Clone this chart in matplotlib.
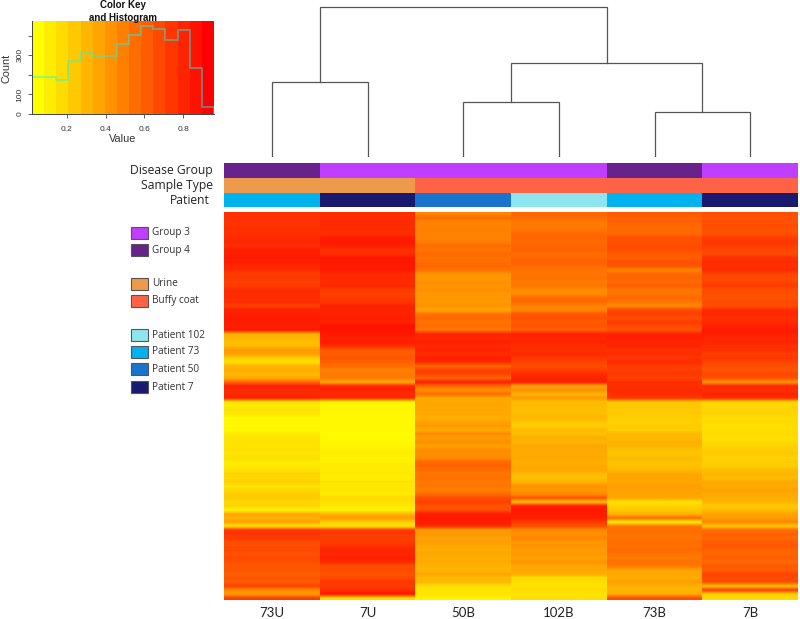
import matplotlib
matplotlib.use('Agg')
import matplotlib.pyplot as plt
from matplotlib.colors import LinearSegmentedColormap
from matplotlib.patches import Rectangle
import numpy as np

plt.rcParams['font.family'] = ['Open Sans', 'DejaVu Sans']

samples = ['73U', '7U', '50B', '102B', '73B', '7B']
disease_group = ['Group 4', 'Group 3', 'Group 3', 'Group 3', 'Group 4', 'Group 3']
sample_type = ['Urine', 'Urine', 'Buffy coat', 'Buffy coat', 'Buffy coat', 'Buffy coat']
patient = ['Patient 73', 'Patient 7', 'Patient 50', 'Patient 102', 'Patient 73', 'Patient 7']

group_colors = {'Group 3': '#BF3EFF', 'Group 4': '#68228B'}
type_colors = {'Urine': '#EE9A4D', 'Buffy coat': '#FF6347'}
patient_colors = {'Patient 102': '#8EE5EE', 'Patient 73': '#00B2EE',
                  'Patient 50': '#1874CD', 'Patient 7': '#191970'}

# heatmap rows, top to bottom, one list per sample
col_73U = [.84,.85,.83,.84,.85,.84,.87,.88,.86,.92,.91,.93,.92,.88,.87,.79,.81,.78,.80,.86,
           .87,.85,.86,.78,.92,.90,.93,.92,.91,.94,
           .32,.30,.27,.28,.42,.38,.22,.12,.30,.34,.28,.36,.62,.92,.86,.88,.90,
           .10,.08,.12,.10,.03,.03,.04,.03,.09,.12,.10,.11,.13,.10,.14,.08,.10,.12,.18,
           .15,.20,.10,.17,.19,.22,.16,.18,.05,.36,.32,.38,.12,
           .82,.84,.80,.73,.72,.75,.70,.74,.72,.68,.70,.65,.70,.66,.78,.48,.40,.78]
col_7U = [.86,.85,.87,.86,.86,.85,.93,.94,.92,.84,.86,.94,.95,.93,.94,.87,.88,.86,.88,.80,
          .78,.81,.82,.90,.91,.89,.92,.90,.97,.96,
          .94,.90,.92,.85,.68,.66,.70,.65,.60,.52,.55,.54,.35,.88,.92,.86,.88,
          .03,.03,.04,.03,.03,.02,.03,.03,.02,.03,.03,.04,.07,.08,.05,.06,.09,.08,.10,
          .07,.12,.09,.11,.08,.16,.12,.10,.05,.30,.42,.20,.10,
          .80,.82,.78,.80,.84,.90,.88,.92,.87,.72,.74,.70,.75,.82,.80,.85,.95,.15]
col_50B = [.50,.60,.50,.50,.52,.50,.50,.53,.60,.56,.62,.58,.60,.62,.58,.44,.42,.45,.44,.46,
           .42,.43,.42,.45,.35,.58,.62,.56,.60,.55,
           .90,.88,.92,.87,.90,.86,.91,.88,.62,.78,.76,.62,.92,.62,.45,.60,.35,
           .36,.37,.35,.36,.32,.38,.42,.35,.48,.40,.46,.38,.47,.46,.48,.62,.64,.60,.55,
           .58,.54,.56,.52,.60,.74,.78,.70,.72,.92,.94,.92,.88,
           .40,.42,.38,.40,.36,.34,.36,.33,.35,.32,.30,.36,.28,.30,.14,.10,.12,.05]
col_102B = [.62,.60,.55,.55,.56,.62,.63,.60,.62,.64,.60,.62,.66,.60,.58,.55,.58,.54,.56,.47,
            .48,.60,.62,.50,.50,.68,.72,.66,.70,.65,
            .92,.88,.90,.86,.84,.88,.82,.76,.74,.78,.86,.90,.92,.36,.46,.30,.42,
            .27,.28,.27,.27,.30,.24,.20,.28,.26,.34,.30,.36,.35,.34,.36,.33,.35,.36,.28,
            .26,.32,.45,.42,.48,.70,.25,.92,.94,.93,.92,.80,.72,
            .48,.46,.50,.42,.44,.40,.42,.38,.44,.35,.36,.34,.13,.14,.12,.15,.11,.13]
col_73B = [.68,.65,.64,.62,.60,.62,.72,.70,.74,.71,.68,.66,.72,.70,.50,.62,.64,.60,.66,.55,
           .58,.62,.56,.48,.75,.78,.72,.80,.74,.70,
           .90,.92,.88,.90,.84,.86,.82,.87,.80,.78,.82,.76,.86,.84,.88,.85,.82,
           .22,.23,.21,.22,.20,.18,.22,.19,.30,.28,.32,.30,.26,.24,.28,.25,.26,.28,.36,
           .38,.36,.40,.37,.38,.36,.12,.18,.22,.32,.60,.06,.55,
           .60,.58,.56,.60,.58,.62,.56,.54,.58,.55,.38,.36,.34,.40,.32,.30,.35,.72]
col_7B = [.72,.70,.71,.74,.70,.72,.80,.82,.79,.76,.74,.85,.86,.84,.87,.76,.74,.77,.80,.72,
          .73,.70,.74,.72,.86,.88,.85,.87,.90,.94,
          .92,.88,.90,.84,.86,.78,.82,.76,.72,.70,.74,.72,.42,.88,.84,.90,.86,
          .17,.16,.18,.17,.14,.15,.13,.14,.15,.13,.16,.18,.20,.22,.18,.21,.20,.28,.30,
          .27,.36,.34,.38,.35,.33,.30,.22,.28,.38,.40,.50,.22,
          .60,.64,.62,.66,.68,.64,.62,.66,.60,.68,.65,.76,.74,.72,.25,.80,.20,.15]

# colour key histogram
hist_edges = [.02,.083,.145,.208,.271,.333,.396,.459,.521,.584,.647,.709,.772,.835,.897,.96]
hist_counts = [189,189,172,270,310,298,297,357,403,449,435,378,430,236,37]

# dendrogram merges: left node, right node, height (leaves are 0-5, new nodes count on from 6)
merges = [(0, 1, 75), (2, 3, 55), (4, 5, 45), (7, 8, 94), (6, 9, 150)]

W, H = 800, 619
fig = plt.figure(figsize=(W / 100, H / 100), dpi=100)


def px_axes(left, top, right, bottom):
    return fig.add_axes([left / W, 1 - bottom / H, (right - left) / W, (bottom - top) / H])


heat = LinearSegmentedColormap.from_list('heat', ['#FFFF00', '#FF8000', '#FF0000'])

# heatmap, one image per column so the soft blur only runs along the rows
ax = px_axes(224, 212, 798, 600)
columns = [col_73U, col_7U, col_50B, col_102B, col_73B, col_7B]
for i, col in enumerate(columns):
    ax.imshow(np.array(col).reshape(-1, 1), cmap=heat, vmin=0, vmax=1.04, aspect='auto',
              interpolation='bilinear', extent=(i - 0.5, i + 0.5, len(col), 0))
ax.set_xlim(-0.5, len(samples) - 0.5)
ax.set_ylim(len(col_73U), 0)
ax.set_xticks(range(len(samples)))
ax.set_xticklabels(samples, fontsize=9.5, family='Lato', color='#222222')
ax.set_yticks([])
ax.tick_params(axis='x', length=0, pad=5)
for s in ax.spines.values():
    s.set_visible(False)

# annotation bars
rows = [('Disease Group', disease_group, group_colors, 163, 177.5, 213),
        ('Sample Type', sample_type, type_colors, 178, 192.5, 213),
        ('Patient', patient, patient_colors, 193, 207, 210)]
for name, vals, colors, top, bottom, lab_x in rows:
    a = px_axes(224, top, 798, bottom)
    a.bar(range(len(vals)), 1, width=1, color=[colors[v] for v in vals])
    a.set_xlim(-0.5, len(vals) - 0.5)
    a.set_ylim(0, 1)
    a.axis('off')
    fig.text(lab_x / W, 1 - (top + bottom) / 2 / H, name, ha='right', va='center',
             fontsize=8.7, color='#222222')

# dendrogram
ax = px_axes(224, 0, 798, 157)
nodes = {i: (i, 0) for i in range(len(samples))}
for k, (l, r, h) in enumerate(merges):
    xl, hl = nodes[l]
    xr, hr = nodes[r]
    ax.plot([xl, xl, xr, xr], [hl, h, h, hr], color='#555555', lw=0.9, solid_joinstyle='miter')
    nodes[len(samples) + k] = ((xl + xr) / 2, h)
ax.set_xlim(-0.5, len(samples) - 0.5)
ax.set_ylim(0, 157)
ax.axis('off')

# colour key
ax = px_axes(32, 21, 214, 114)
n_band = len(hist_counts)
ax.pcolormesh(hist_edges, [0, 474], [np.arange(n_band) / (n_band - 1)], cmap=heat, vmin=0, vmax=1)
ax.stairs(hist_counts, hist_edges, color='cyan', alpha=0.5, lw=1.2)
ax.set_xlim(hist_edges[0], hist_edges[-1])
ax.set_ylim(0, 474)
ax.set_xticks([0.2, 0.4, 0.6, 0.8])
ax.set_xticklabels(['0.2', '0.4', '0.6', '0.8'], fontsize=6, family='Liberation Sans', color='#333333')
ax.set_yticks([0, 100, 200, 300, 400])
ax.set_yticklabels(['0', '100', '', '300', ''], fontsize=6, family='Liberation Sans',
                   rotation=90, va='center', color='#333333')
ax.tick_params(axis='x', length=3, width=0.6, color='#444444', pad=6)
ax.tick_params(axis='y', length=3, width=0.6, color='#444444', pad=3)
ax.spines['top'].set_visible(False)
ax.spines['right'].set_visible(False)
ax.spines['left'].set_linewidth(0.7)
ax.spines['bottom'].set_linewidth(0.7)
ax.spines['left'].set_color('#444444')
ax.spines['bottom'].set_color('#444444')
fig.text(123 / W, 1 - 139 / H, 'Value', ha='center', va='center', fontsize=7.8,
         family='Liberation Sans', color='#333333')
fig.text(6 / W, 1 - 68 / H, 'Count', ha='center', va='center', rotation=90, fontsize=7.8,
         family='Liberation Sans', color='#333333')
fig.text(123 / W, 1 - 11.5 / H, 'Color Key\nand Histogram', ha='center', va='center', fontsize=7,
         fontweight='bold', family='Liberation Sans', linespacing=1.45, color='#111111')

# legend squares
ov = fig.add_axes([0, 0, 1, 1])
ov.set_xlim(0, W)
ov.set_ylim(H, 0)
ov.axis('off')
ov.patch.set_alpha(0)
legend_items = [('Group 3', group_colors, 227), ('Group 4', group_colors, 244),
                ('Urine', type_colors, 278), ('Buffy coat', type_colors, 295),
                ('Patient 102', patient_colors, 329), ('Patient 73', patient_colors, 346),
                ('Patient 50', patient_colors, 363), ('Patient 7', patient_colors, 381)]
for name, colors, y in legend_items:
    ov.add_patch(Rectangle((131, y), 17, 12, facecolor=colors[name], edgecolor='#555555', lw=0.8))
    ov.text(152, y + 6, name, va='center', ha='left', fontsize=7.2, color='#333333')

fig.savefig('out.png', dpi=100)
